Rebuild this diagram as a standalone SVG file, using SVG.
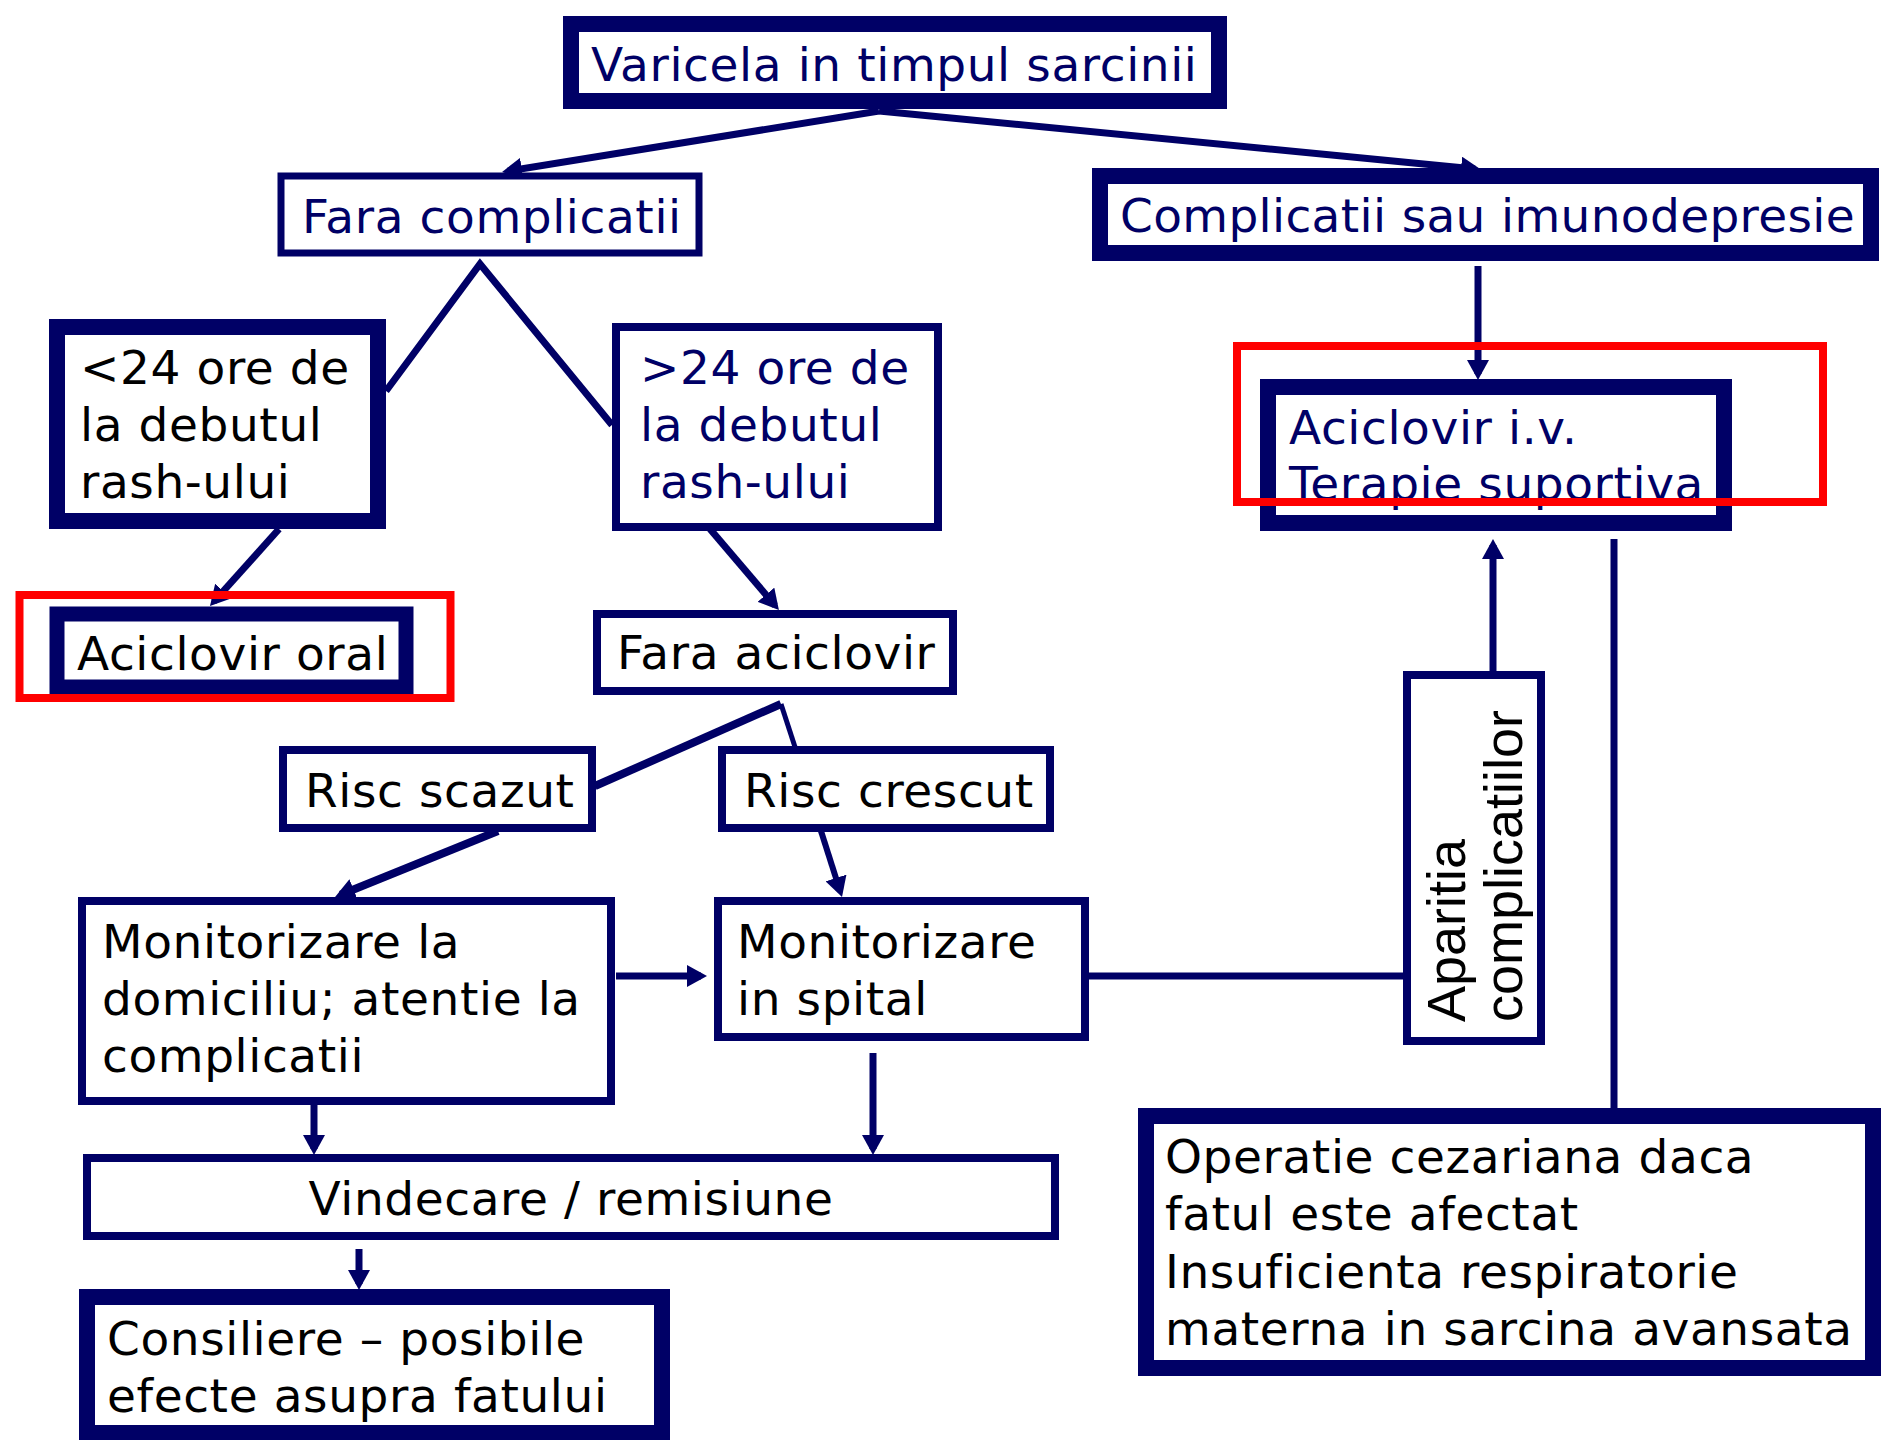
<svg xmlns="http://www.w3.org/2000/svg" width="1883" height="1440" viewBox="0 0 1883 1440">
<style>
.thin{fill:#fff;stroke:#000066;stroke-width:8}
.thick{fill:#fff;stroke:#000066;stroke-width:16}
.red{fill:none;stroke:#ff0000;stroke-width:8}
.t{font-family:'DejaVu Sans',Verdana,sans-serif;font-size:47px;letter-spacing:0.6px}
.r{font-family:'Liberation Sans',Arial,sans-serif;font-size:54px;fill:#000}
.navy{fill:#000066}
.blk{fill:#000}
.c{stroke:#000066;fill:none;stroke-width:7}
.ca{stroke:#000066;fill:none;stroke-width:7;marker-end:url(#ah)}
</style>
<defs>
<marker id="ah" viewBox="0 0 20 22" refX="14" refY="11" markerWidth="20" markerHeight="22" markerUnits="userSpaceOnUse" orient="auto">
<path d="M0,0 L20,11 L0,22 z" fill="#000066"/>
</marker>
</defs>
<rect width="1883" height="1440" fill="#fff"/>
<g id="connectors">
<path class="ca" d="M879,111 L508,171"/>
<path class="ca" d="M879,111 L1475,169"/>
<path class="c" d="M386,391 L480,264 L612,425"/>
<path class="ca" d="M279,529 L214,601.5"/>
<path class="ca" d="M710,529 L775,605.4"/>
<path class="c" style="stroke-width:8" d="M595,786 L781,704"/>
<path class="c" style="stroke-width:5" d="M781,704 L795,747"/>
<path class="ca" style="stroke-width:8" d="M498,831 L340.6,894.8"/>
<path class="ca" style="stroke-width:6" d="M821,831 L840.2,891.3"/>
<path class="ca" d="M616,976 L701,976"/>
<path class="c" d="M1089,976 L1403,976"/>
<path class="ca" d="M1493,671 L1493,545"/>
<path class="ca" d="M1478,266 L1478,374"/>
<path class="ca" d="M1614,539 L1614,1124"/>
<path class="ca" d="M314,1105 L314,1149"/>
<path class="ca" d="M873,1053 L873,1149"/>
<path class="ca" d="M359,1249 L359,1284"/>
</g>
<g id="n-varicela">
<rect class="thick" x="571" y="24" width="648" height="77"/>
<text class="t navy" x="591" y="81">Varicela in timpul sarcinii</text>
</g>
<g id="n-fara-complicatii">
<rect class="thin" style="stroke-width:7" x="281" y="176" width="418" height="77"/>
<text class="t navy" x="302" y="233">Fara complicatii</text>
</g>
<g id="n-complicatii">
<rect class="thick" x="1100" y="176" width="771" height="77"/>
<text class="t navy" style="letter-spacing:0.35px" x="1120" y="232">Complicatii sau imunodepresie</text>
</g>
<g id="n-sub24">
<rect class="thick" x="57" y="327" width="321" height="194"/>
<text class="t blk" x="80" y="384">&lt;24 ore de</text>
<text class="t blk" x="80" y="441">la debutul</text>
<text class="t blk" x="80" y="498">rash-ului</text>
</g>
<g id="n-peste24">
<rect class="thin" x="616" y="327" width="322" height="200"/>
<text class="t navy" x="640" y="384">&gt;24 ore de</text>
<text class="t navy" x="640" y="441">la debutul</text>
<text class="t navy" x="640" y="498">rash-ului</text>
</g>
<g id="n-aciclovir-iv">
<rect class="thick" x="1268" y="387" width="456" height="136"/>
<text class="t navy" x="1289" y="444">Aciclovir i.v.</text>
<text class="t navy" x="1289" y="500">Terapie suportiva</text>
</g>
<g id="n-aciclovir-oral">
<rect class="thick" style="stroke-width:15" x="57" y="614" width="349" height="73"/>
<text class="t blk" x="77" y="670">Aciclovir oral</text>
</g>
<g id="n-fara-aciclovir">
<rect class="thin" x="597" y="614" width="356" height="77"/>
<text class="t blk" x="617" y="669">Fara aciclovir</text>
</g>
<g id="n-risc-scazut">
<rect class="thin" x="283" y="750" width="309" height="78"/>
<text class="t blk" x="305" y="807">Risc scazut</text>
</g>
<g id="n-risc-crescut">
<rect class="thin" x="722" y="750" width="328" height="78"/>
<text class="t blk" x="744" y="807">Risc crescut</text>
</g>
<g id="n-mon-domiciliu">
<rect class="thin" x="82" y="901" width="529" height="200"/>
<text class="t blk" x="102" y="958">Monitorizare la</text>
<text class="t blk" x="102" y="1015">domiciliu; atentie la</text>
<text class="t blk" x="102" y="1072">complicatii</text>
</g>
<g id="n-mon-spital">
<rect class="thin" x="718" y="901" width="367" height="136"/>
<text class="t blk" x="737" y="958">Monitorizare</text>
<text class="t blk" x="737" y="1015">in spital</text>
</g>
<g id="n-aparitia">
<rect class="thin" x="1407" y="675" width="134" height="366"/>
<text class="r" transform="translate(1465,1022) rotate(-90)">Aparitia</text>
<text class="r" transform="translate(1522,1022) rotate(-90)">complicatiilor</text>
</g>
<g id="n-vindecare">
<rect class="thin" x="87" y="1158" width="968" height="78"/>
<text class="t blk" x="571" y="1215" text-anchor="middle">Vindecare / remisiune</text>
</g>
<g id="n-consiliere">
<rect class="thick" x="87" y="1297" width="575" height="136"/>
<text class="t blk" x="107" y="1355">Consiliere – posibile</text>
<text class="t blk" x="107" y="1412">efecte asupra fatului</text>
</g>
<g id="n-operatie">
<rect class="thick" x="1146" y="1116" width="727" height="252"/>
<text class="t blk" x="1165" y="1173">Operatie cezariana daca</text>
<text class="t blk" x="1165" y="1230">fatul este afectat</text>
<text class="t blk" x="1165" y="1288">Insuficienta respiratorie</text>
<text class="t blk" x="1165" y="1345">materna in sarcina avansata</text>
</g>
<g id="highlights">
<rect class="red" x="1237" y="346" width="586" height="156"/>
<rect class="red" x="19.5" y="595" width="431" height="103"/>
</g>
</svg>
